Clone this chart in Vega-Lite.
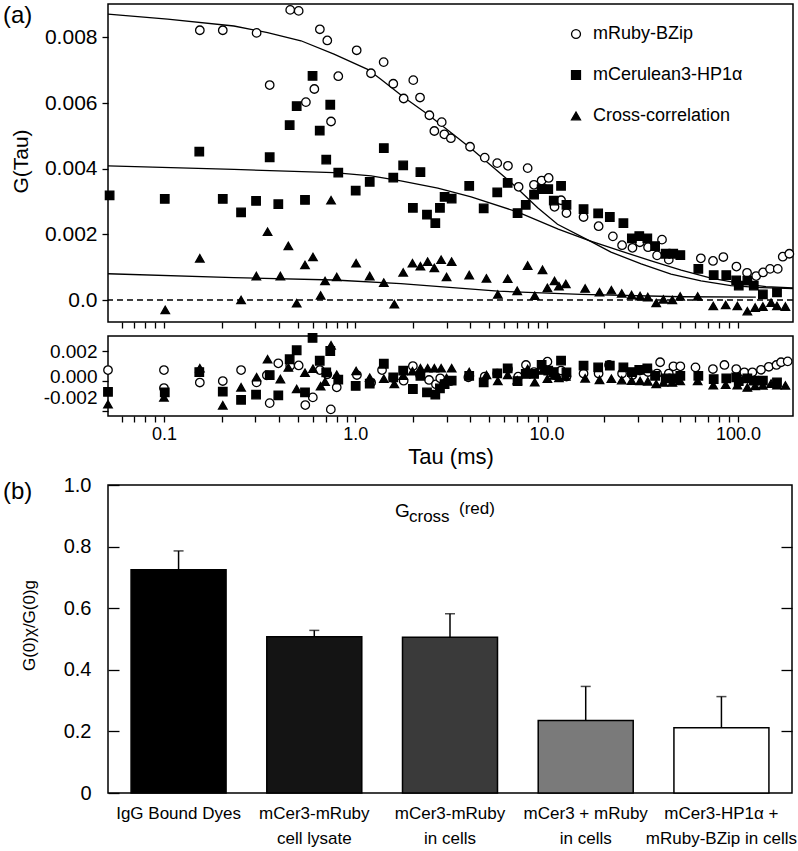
{
  "$schema": "https://vega.github.io/schema/vega-lite/v6.json",
  "padding": {"left": 2, "top": 2, "right": 4, "bottom": 4},
  "spacing": 0,
  "config": {
    "font": "Liberation Sans",
    "view": {"stroke": "black", "strokeWidth": 1.5},
    "axis": {"domain": false, "grid": false, "tickColor": "black", "tickWidth": 1.3, "labelColor": "black", "titleColor": "black", "titleFontWeight": "normal", "labelFont": "Liberation Sans", "titleFont": "Liberation Sans"},
    "title": {"color": "black", "fontWeight": "normal", "font": "Liberation Sans"}
  },
  "datasets": {
    "pts": [
      {"s":"mRuby-BZip","t":0.154,"g":0.00822},{"s":"mRuby-BZip","t":0.203,"g":0.00822},{"s":"mRuby-BZip","t":0.305,"g":0.00814},{"s":"mRuby-BZip","t":0.357,"g":0.00655},{"s":"mRuby-BZip","t":0.457,"g":0.00884},{"s":"mRuby-BZip","t":0.506,"g":0.00881},{"s":"mRuby-BZip","t":0.552,"g":0.00603},{"s":"mRuby-BZip","t":0.611,"g":0.00643},{"s":"mRuby-BZip","t":0.653,"g":0.00825},{"s":"mRuby-BZip","t":0.714,"g":0.00791},{"s":"mRuby-BZip","t":0.747,"g":0.00544},{"s":"mRuby-BZip","t":0.815,"g":0.00682},{"s":"mRuby-BZip","t":1.017,"g":0.00761},{"s":"mRuby-BZip","t":1.208,"g":0.00691},{"s":"mRuby-BZip","t":1.407,"g":0.00725},{"s":"mRuby-BZip","t":1.58,"g":0.00659},{"s":"mRuby-BZip","t":1.79,"g":0.00614},{"s":"mRuby-BZip","t":2.01,"g":0.0067},{"s":"mRuby-BZip","t":2.18,"g":0.00617},{"s":"mRuby-BZip","t":2.44,"g":0.00563},{"s":"mRuby-BZip","t":2.59,"g":0.00515},{"s":"mRuby-BZip","t":2.83,"g":0.00542},{"s":"mRuby-BZip","t":2.92,"g":0.00505},{"s":"mRuby-BZip","t":3.16,"g":0.00493},{"s":"mRuby-BZip","t":3.98,"g":0.00467},{"s":"mRuby-BZip","t":4.75,"g":0.00434},{"s":"mRuby-BZip","t":5.52,"g":0.00417},{"s":"mRuby-BZip","t":6.28,"g":0.00409},{"s":"mRuby-BZip","t":7.14,"g":0.00345},{"s":"mRuby-BZip","t":7.96,"g":0.00402},{"s":"mRuby-BZip","t":8.59,"g":0.00351},{"s":"mRuby-BZip","t":9.42,"g":0.00364},{"s":"mRuby-BZip","t":10.25,"g":0.00372},{"s":"mRuby-BZip","t":11.0,"g":0.00284},{"s":"mRuby-BZip","t":11.9,"g":0.00304},{"s":"mRuby-BZip","t":12.7,"g":0.00265},{"s":"mRuby-BZip","t":15.6,"g":0.00253},{"s":"mRuby-BZip","t":18.7,"g":0.00225},{"s":"mRuby-BZip","t":22.2,"g":0.00194},{"s":"mRuby-BZip","t":24.8,"g":0.00167},{"s":"mRuby-BZip","t":28.1,"g":0.00159},{"s":"mRuby-BZip","t":30.7,"g":0.00176},{"s":"mRuby-BZip","t":33.9,"g":0.00161},{"s":"mRuby-BZip","t":37.8,"g":0.00136},{"s":"mRuby-BZip","t":40.1,"g":0.00184},{"s":"mRuby-BZip","t":43.5,"g":0.00123},{"s":"mRuby-BZip","t":64.0,"g":0.00127},{"s":"mRuby-BZip","t":74.1,"g":0.00119},{"s":"mRuby-BZip","t":83.9,"g":0.00131},{"s":"mRuby-BZip","t":98.2,"g":0.00102},{"s":"mRuby-BZip","t":111.6,"g":0.00083},{"s":"mRuby-BZip","t":124.5,"g":0.00073},{"s":"mRuby-BZip","t":135.3,"g":0.00084},{"s":"mRuby-BZip","t":147.2,"g":0.00095},{"s":"mRuby-BZip","t":161.5,"g":0.00095},{"s":"mRuby-BZip","t":171.5,"g":0.00132},{"s":"mRuby-BZip","t":185.6,"g":0.00141},
      {"s":"mCerulean3-HP1α","t":0.052,"g":0.00319},{"s":"mCerulean3-HP1α","t":0.101,"g":0.00308},{"s":"mCerulean3-HP1α","t":0.153,"g":0.00452},{"s":"mCerulean3-HP1α","t":0.203,"g":0.00308},{"s":"mCerulean3-HP1α","t":0.253,"g":0.00267},{"s":"mCerulean3-HP1α","t":0.303,"g":0.00302},{"s":"mCerulean3-HP1α","t":0.357,"g":0.00435},{"s":"mCerulean3-HP1α","t":0.396,"g":0.00292},{"s":"mCerulean3-HP1α","t":0.454,"g":0.00533},{"s":"mCerulean3-HP1α","t":0.494,"g":0.00591},{"s":"mCerulean3-HP1α","t":0.546,"g":0.00305},{"s":"mCerulean3-HP1α","t":0.598,"g":0.00683},{"s":"mCerulean3-HP1α","t":0.652,"g":0.00516},{"s":"mCerulean3-HP1α","t":0.705,"g":0.00428},{"s":"mCerulean3-HP1α","t":0.74,"g":0.00595},{"s":"mCerulean3-HP1α","t":0.815,"g":0.00388},{"s":"mCerulean3-HP1α","t":1.005,"g":0.00333},{"s":"mCerulean3-HP1α","t":1.19,"g":0.0036},{"s":"mCerulean3-HP1α","t":1.41,"g":0.00463},{"s":"mCerulean3-HP1α","t":1.58,"g":0.00373},{"s":"mCerulean3-HP1α","t":1.78,"g":0.0041},{"s":"mCerulean3-HP1α","t":2.0,"g":0.00281},{"s":"mCerulean3-HP1α","t":2.19,"g":0.0039},{"s":"mCerulean3-HP1α","t":2.37,"g":0.0026},{"s":"mCerulean3-HP1α","t":2.62,"g":0.00234},{"s":"mCerulean3-HP1α","t":2.77,"g":0.00281},{"s":"mCerulean3-HP1α","t":2.93,"g":0.00314},{"s":"mCerulean3-HP1α","t":3.19,"g":0.00309},{"s":"mCerulean3-HP1α","t":3.94,"g":0.00348},{"s":"mCerulean3-HP1α","t":4.69,"g":0.00279},{"s":"mCerulean3-HP1α","t":5.52,"g":0.00328},{"s":"mCerulean3-HP1α","t":6.26,"g":0.00357},{"s":"mCerulean3-HP1α","t":7.05,"g":0.00265},{"s":"mCerulean3-HP1α","t":7.78,"g":0.0029},{"s":"mCerulean3-HP1α","t":8.6,"g":0.00321},{"s":"mCerulean3-HP1α","t":9.42,"g":0.00338},{"s":"mCerulean3-HP1α","t":10.2,"g":0.00338},{"s":"mCerulean3-HP1α","t":10.9,"g":0.00303},{"s":"mCerulean3-HP1α","t":11.9,"g":0.00348},{"s":"mCerulean3-HP1α","t":12.7,"g":0.0029},{"s":"mCerulean3-HP1α","t":15.6,"g":0.00277},{"s":"mCerulean3-HP1α","t":18.6,"g":0.00264},{"s":"mCerulean3-HP1α","t":21.4,"g":0.00253},{"s":"mCerulean3-HP1α","t":25.2,"g":0.00234},{"s":"mCerulean3-HP1α","t":27.9,"g":0.00188},{"s":"mCerulean3-HP1α","t":30.5,"g":0.00195},{"s":"mCerulean3-HP1α","t":33.6,"g":0.00188},{"s":"mCerulean3-HP1α","t":36.9,"g":0.00164},{"s":"mCerulean3-HP1α","t":41.9,"g":0.00141},{"s":"mCerulean3-HP1α","t":45.9,"g":0.00141},{"s":"mCerulean3-HP1α","t":50.0,"g":0.00137},{"s":"mCerulean3-HP1α","t":62.1,"g":0.00095},{"s":"mCerulean3-HP1α","t":74.7,"g":0.00076},{"s":"mCerulean3-HP1α","t":86.9,"g":0.00076},{"s":"mCerulean3-HP1α","t":97.9,"g":0.0006},{"s":"mCerulean3-HP1α","t":101,"g":0.00044},{"s":"mCerulean3-HP1α","t":112,"g":0.00059},{"s":"mCerulean3-HP1α","t":121,"g":0.00044},{"s":"mCerulean3-HP1α","t":135,"g":0.00017},{"s":"mCerulean3-HP1α","t":160,"g":0.00023},
      {"s":"Cross-correlation","t":0.1016,"g":-0.0003},{"s":"Cross-correlation","t":0.154,"g":0.00127},{"s":"Cross-correlation","t":0.253,"g":0.0},{"s":"Cross-correlation","t":0.304,"g":0.00073},{"s":"Cross-correlation","t":0.348,"g":0.00208},{"s":"Cross-correlation","t":0.406,"g":0.00073},{"s":"Cross-correlation","t":0.447,"g":0.00165},{"s":"Cross-correlation","t":0.494,"g":-0.0001},{"s":"Cross-correlation","t":0.546,"g":0.00107},{"s":"Cross-correlation","t":0.601,"g":0.00131},{"s":"Cross-correlation","t":0.659,"g":0.00014},{"s":"Cross-correlation","t":0.695,"g":0.00058},{"s":"Cross-correlation","t":0.747,"g":0.00304},{"s":"Cross-correlation","t":0.8,"g":0.0007},{"s":"Cross-correlation","t":1.01,"g":0.00112},{"s":"Cross-correlation","t":1.19,"g":0.00073},{"s":"Cross-correlation","t":1.41,"g":0.00053},{"s":"Cross-correlation","t":1.6,"g":-0.00013},{"s":"Cross-correlation","t":1.78,"g":0.00084},{"s":"Cross-correlation","t":1.99,"g":0.00112},{"s":"Cross-correlation","t":2.19,"g":0.00103},{"s":"Cross-correlation","t":2.39,"g":0.00117},{"s":"Cross-correlation","t":2.59,"g":0.00098},{"s":"Cross-correlation","t":2.81,"g":0.00123},{"s":"Cross-correlation","t":3.0,"g":0.0007},{"s":"Cross-correlation","t":3.19,"g":0.00117},{"s":"Cross-correlation","t":3.94,"g":0.00076},{"s":"Cross-correlation","t":4.85,"g":0.00066},{"s":"Cross-correlation","t":5.56,"g":0.00017},{"s":"Cross-correlation","t":6.26,"g":0.00065},{"s":"Cross-correlation","t":7.02,"g":0.00028},{"s":"Cross-correlation","t":7.96,"g":0.00105},{"s":"Cross-correlation","t":8.67,"g":0.00013},{"s":"Cross-correlation","t":9.52,"g":0.00092},{"s":"Cross-correlation","t":10.1,"g":0.00037},{"s":"Cross-correlation","t":11.0,"g":0.00058},{"s":"Cross-correlation","t":11.6,"g":0.00042},{"s":"Cross-correlation","t":12.6,"g":0.00049},{"s":"Cross-correlation","t":15.9,"g":0.00035},{"s":"Cross-correlation","t":18.9,"g":0.00024},{"s":"Cross-correlation","t":21.8,"g":0.0003},{"s":"Cross-correlation","t":24.7,"g":0.0002},{"s":"Cross-correlation","t":27.8,"g":0.00015},{"s":"Cross-correlation","t":30.8,"g":0.00012},{"s":"Cross-correlation","t":33.8,"g":0.00009},{"s":"Cross-correlation","t":37.4,"g":-0.00009},{"s":"Cross-correlation","t":40.8,"g":0.00002},{"s":"Cross-correlation","t":45.4,"g":0.0},{"s":"Cross-correlation","t":49.9,"g":0.00011},{"s":"Cross-correlation","t":61.6,"g":0.00011},{"s":"Cross-correlation","t":74.3,"g":-0.00018},{"s":"Cross-correlation","t":86.3,"g":-0.00015},{"s":"Cross-correlation","t":99.3,"g":-0.00018},{"s":"Cross-correlation","t":112,"g":-0.00034},{"s":"Cross-correlation","t":123,"g":-0.00023},{"s":"Cross-correlation","t":135,"g":-0.0002},{"s":"Cross-correlation","t":149,"g":-0.00008},{"s":"Cross-correlation","t":160,"g":-0.00018},{"s":"Cross-correlation","t":177,"g":-0.0002}
    ],
    "fits": [
      {"f":"R","t":0.051,"g":0.00871},{"f":"R","t":0.1045,"g":0.00856},{"f":"R","t":0.232,"g":0.00835},{"f":"R","t":0.348,"g":0.00815},{"f":"R","t":0.52,"g":0.0079},{"f":"R","t":0.774,"g":0.00749},{"f":"R","t":1.16,"g":0.00703},{"f":"R","t":1.36,"g":0.00673},{"f":"R","t":1.8,"g":0.00617},{"f":"R","t":2.39,"g":0.00566},{"f":"R","t":4.03,"g":0.00462},{"f":"R","t":6.52,"g":0.00358},{"f":"R","t":8.98,"g":0.00281},{"f":"R","t":11.4,"g":0.00231},{"f":"R","t":16.7,"g":0.00181},{"f":"R","t":21.7,"g":0.00146},{"f":"R","t":31.2,"g":0.0011},{"f":"R","t":44.7,"g":0.00079},{"f":"R","t":64.1,"g":0.00058},{"f":"R","t":92,"g":0.00044},{"f":"R","t":132,"g":0.00038},{"f":"R","t":194,"g":0.00035},
      {"f":"C","t":0.051,"g":0.00409},{"f":"C","t":0.232,"g":0.00398},{"f":"C","t":0.774,"g":0.00388},{"f":"C","t":1.21,"g":0.00378},{"f":"C","t":1.73,"g":0.00363},{"f":"C","t":2.7,"g":0.00341},{"f":"C","t":4.03,"g":0.00314},{"f":"C","t":7.08,"g":0.00268},{"f":"C","t":11.5,"g":0.00216},{"f":"C","t":16.7,"g":0.00181},{"f":"C","t":24.5,"g":0.00149},{"f":"C","t":35.2,"g":0.00119},{"f":"C","t":50.5,"g":0.00091},{"f":"C","t":72.3,"g":0.00067},{"f":"C","t":104,"g":0.0005},{"f":"C","t":140,"g":0.00041},{"f":"C","t":194,"g":0.00037},
      {"f":"X","t":0.051,"g":0.0008},{"f":"X","t":0.232,"g":0.00068},{"f":"X","t":0.774,"g":0.00061},{"f":"X","t":1.73,"g":0.0005},{"f":"X","t":5.57,"g":0.00027},{"f":"X","t":15.1,"g":0.00017},{"f":"X","t":50.5,"g":0.0001},{"f":"X","t":124,"g":0.00009}
    ],
    "res": [
      {"s":"R","t":0.051,"r":0.00073},{"s":"R","t":0.1,"r":0.00073},{"s":"R","t":0.1,"r":-0.00047},{"s":"R","t":0.154,"r":-0.0001},{"s":"R","t":0.203,"r":0.0},{"s":"R","t":0.253,"r":0.00073},{"s":"R","t":0.305,"r":-0.00009},{"s":"R","t":0.345,"r":0.00038},{"s":"R","t":0.357,"r":-0.00147},{"s":"R","t":0.396,"r":0.00118},{"s":"R","t":0.457,"r":0.00102},{"s":"R","t":0.506,"r":0.00104},{"s":"R","t":0.548,"r":-0.0016},{"s":"R","t":0.6,"r":-0.00109},{"s":"R","t":0.653,"r":0.00073},{"s":"R","t":0.714,"r":0.00045},{"s":"R","t":0.745,"r":-0.00189},{"s":"R","t":0.8,"r":-0.00042},{"s":"R","t":1.02,"r":0.0004},{"s":"R","t":1.21,"r":-0.0001},{"s":"R","t":1.38,"r":0.00073},{"s":"R","t":1.58,"r":0.0002},{"s":"R","t":1.79,"r":0.00002},{"s":"R","t":2.0,"r":0.001},{"s":"R","t":2.18,"r":0.0004},{"s":"R","t":2.43,"r":0.00007},{"s":"R","t":2.64,"r":-0.00022},{"s":"R","t":2.78,"r":0.00018},{"s":"R","t":2.92,"r":-0.0002},{"s":"R","t":3.16,"r":0.0},{"s":"R","t":3.9,"r":0.00025},{"s":"R","t":4.75,"r":0.0003},{"s":"R","t":5.52,"r":0.0005},{"s":"R","t":6.28,"r":0.0008},{"s":"R","t":7.1,"r":0.00029},{"s":"R","t":7.8,"r":0.00107},{"s":"R","t":8.59,"r":0.0006},{"s":"R","t":9.42,"r":0.0008},{"s":"R","t":10.1,"r":0.00129},{"s":"R","t":11.0,"r":0.0004},{"s":"R","t":11.9,"r":0.0007},{"s":"R","t":12.7,"r":0.0003},{"s":"R","t":15.6,"r":0.0005},{"s":"R","t":18.7,"r":0.0005},{"s":"R","t":21.2,"r":0.00107},{"s":"R","t":24.8,"r":0.0005},{"s":"R","t":28.1,"r":0.0004},{"s":"R","t":30.7,"r":0.0007},{"s":"R","t":33.9,"r":0.0006},{"s":"R","t":37.8,"r":0.0005},{"s":"R","t":39.2,"r":0.00125},{"s":"R","t":43.5,"r":0.0005},{"s":"R","t":46,"r":0.00098},{"s":"R","t":50,"r":0.00098},{"s":"R","t":60,"r":0.00091},{"s":"R","t":74,"r":0.0008},{"s":"R","t":85,"r":0.00107},{"s":"R","t":98,"r":0.0008},{"s":"R","t":108,"r":0.00058},{"s":"R","t":119,"r":0.00058},{"s":"R","t":132,"r":0.00075},{"s":"R","t":145,"r":0.00095},{"s":"R","t":159,"r":0.00107},{"s":"R","t":168,"r":0.00125},{"s":"R","t":182,"r":0.00131},
      {"s":"C","t":0.051,"r":-0.00072},{"s":"C","t":0.101,"r":-0.00075},{"s":"C","t":0.153,"r":0.0006},{"s":"C","t":0.203,"r":-0.00071},{"s":"C","t":0.253,"r":-0.00125},{"s":"C","t":0.303,"r":-0.0009},{"s":"C","t":0.357,"r":0.0004},{"s":"C","t":0.396,"r":-0.00095},{"s":"C","t":0.454,"r":0.00145},{"s":"C","t":0.494,"r":0.00205},{"s":"C","t":0.546,"r":-0.00075},{"s":"C","t":0.598,"r":0.00287},{"s":"C","t":0.652,"r":0.00135},{"s":"C","t":0.705,"r":0.00058},{"s":"C","t":0.74,"r":0.002},{"s":"C","t":0.815,"r":0.0001},{"s":"C","t":1.005,"r":-0.00033},{"s":"C","t":1.19,"r":-0.00018},{"s":"C","t":1.41,"r":0.00115},{"s":"C","t":1.58,"r":0.00025},{"s":"C","t":1.78,"r":0.00069},{"s":"C","t":2.0,"r":-0.00053},{"s":"C","t":2.19,"r":0.00035},{"s":"C","t":2.37,"r":-0.00076},{"s":"C","t":2.62,"r":-0.00091},{"s":"C","t":2.77,"r":-0.00049},{"s":"C","t":2.93,"r":-0.0002},{"s":"C","t":3.19,"r":0.00002},{"s":"C","t":3.94,"r":0.00035},{"s":"C","t":4.69,"r":-0.00009},{"s":"C","t":5.52,"r":0.00051},{"s":"C","t":6.26,"r":0.00085},{"s":"C","t":7.05,"r":0.0},{"s":"C","t":7.78,"r":0.00047},{"s":"C","t":8.6,"r":0.00047},{"s":"C","t":9.42,"r":0.00107},{"s":"C","t":10.2,"r":0.00069},{"s":"C","t":10.9,"r":0.0006},{"s":"C","t":11.9,"r":0.00136},{"s":"C","t":12.7,"r":0.00058},{"s":"C","t":15.6,"r":0.00102},{"s":"C","t":18.6,"r":0.00091},{"s":"C","t":21.4,"r":0.00102},{"s":"C","t":25.2,"r":0.00091},{"s":"C","t":27.9,"r":0.0006},{"s":"C","t":30.5,"r":0.00075},{"s":"C","t":33.6,"r":0.00085},{"s":"C","t":36.9,"r":0.00035},{"s":"C","t":41.9,"r":0.00018},{"s":"C","t":45.9,"r":0.00018},{"s":"C","t":50.0,"r":0.00035},{"s":"C","t":62.1,"r":0.00035},{"s":"C","t":74.7,"r":0.00013},{"s":"C","t":86.9,"r":0.00018},{"s":"C","t":97.9,"r":0.00025},{"s":"C","t":101,"r":0.0},{"s":"C","t":112,"r":0.00018},{"s":"C","t":121,"r":0.00002},{"s":"C","t":135,"r":0.00002},{"s":"C","t":160,"r":-0.00009},
      {"s":"X","t":0.051,"r":-0.00155},{"s":"X","t":0.1,"r":-0.00109},{"s":"X","t":0.154,"r":0.00085},{"s":"X","t":0.203,"r":-0.00162},{"s":"X","t":0.253,"r":-0.00042},{"s":"X","t":0.305,"r":0.00025},{"s":"X","t":0.348,"r":0.00145},{"s":"X","t":0.406,"r":0.00013},{"s":"X","t":0.447,"r":0.0009},{"s":"X","t":0.494,"r":-0.00053},{"s":"X","t":0.546,"r":0.00055},{"s":"X","t":0.601,"r":0.00082},{"s":"X","t":0.659,"r":-0.00035},{"s":"X","t":0.695,"r":-0.00005},{"s":"X","t":0.747,"r":0.00238},{"s":"X","t":0.8,"r":0.00042},{"s":"X","t":1.01,"r":0.00067},{"s":"X","t":1.19,"r":0.00022},{"s":"X","t":1.41,"r":0.00015},{"s":"X","t":1.6,"r":-0.0002},{"s":"X","t":1.78,"r":0.00036},{"s":"X","t":1.99,"r":0.00065},{"s":"X","t":2.19,"r":0.00085},{"s":"X","t":2.39,"r":0.00085},{"s":"X","t":2.59,"r":0.00085},{"s":"X","t":2.81,"r":0.00085},{"s":"X","t":3.0,"r":0.0002},{"s":"X","t":3.19,"r":0.00085},{"s":"X","t":3.94,"r":0.0006},{"s":"X","t":4.85,"r":0.0004},{"s":"X","t":5.56,"r":0.0},{"s":"X","t":6.26,"r":0.0004},{"s":"X","t":7.02,"r":0.00005},{"s":"X","t":7.96,"r":0.0008},{"s":"X","t":8.67,"r":-0.00008},{"s":"X","t":9.52,"r":0.0007},{"s":"X","t":10.1,"r":0.00015},{"s":"X","t":11.0,"r":0.00037},{"s":"X","t":11.6,"r":0.0002},{"s":"X","t":12.6,"r":0.0003},{"s":"X","t":15.9,"r":0.00018},{"s":"X","t":18.9,"r":0.00008},{"s":"X","t":21.8,"r":0.00015},{"s":"X","t":24.7,"r":0.00006},{"s":"X","t":27.8,"r":0.00002},{"s":"X","t":30.8,"r":0.0},{"s":"X","t":33.8,"r":-0.00002},{"s":"X","t":37.4,"r":-0.0002},{"s":"X","t":40.8,"r":-0.0001},{"s":"X","t":45.4,"r":-0.0001},{"s":"X","t":49.9,"r":0.0},{"s":"X","t":61.6,"r":0.0},{"s":"X","t":74.3,"r":-0.00028},{"s":"X","t":86.3,"r":-0.00025},{"s":"X","t":99.3,"r":-0.00027},{"s":"X","t":112,"r":-0.00043},{"s":"X","t":123,"r":-0.00032},{"s":"X","t":135,"r":-0.00029},{"s":"X","t":149,"r":-0.00017},{"s":"X","t":160,"r":-0.00027},{"s":"X","t":177,"r":-0.00029}
    ],
    "bars": [
      {"c":"IgG Bound Dyes","v":0.725,"e":0.786},
      {"c":"mCer3-mRuby|cell lysate","v":0.507,"e":0.528},
      {"c":"mCer3-mRuby|in cells","v":0.506,"e":0.582},
      {"c":"mCer3 + mRuby|in cells","v":0.235,"e":0.346},
      {"c":"mCer3-HP1α +|mRuby-BZip in cells","v":0.212,"e":0.313}
    ]
  },
  "vconcat": [
    {
      "width": 685,
      "height": 318,
      "title": {"text": "(a)", "anchor": "start", "frame": "group", "fontSize": 24, "baseline": "top", "offset": -25, "dx": -105},
      "layer": [
        {
          "data": {"name": "fits"},
          "mark": {"type": "line", "color": "black", "strokeWidth": 1.3},
          "encoding": {
            "x": {"field": "t", "type": "quantitative", "scale": {"type": "log", "domain": [0.051, 194], "nice": false},
                  "axis": {"values": [0.06,0.07,0.08,0.09,0.1,0.2,0.3,0.4,0.5,0.6,0.7,0.8,0.9,1,2,3,4,5,6,7,8,9,10,20,30,40,50,60,70,80,90,100], "labels": false, "tickSize": 6, "title": null}},
            "y": {"field": "g", "type": "quantitative", "scale": {"domain": [-0.00067, 0.00902], "nice": false, "zero": false},
                  "axis": {"values": [0, 0.002, 0.004, 0.006, 0.008], "labelExpr": "datum.value == 0 ? '0.0' : format(datum.value, '.3f')", "labelFontSize": 21, "tickSize": 6, "labelPadding": 5, "title": "G(Tau)", "titleFontSize": 21, "titleX": -87, "titleY": 157, "titleBaseline": "middle", "titleAlign": "center"}},
            "detail": {"field": "f"}
          }
        },
        {
          "data": {"values": [{}]},
          "mark": {"type": "rule", "color": "black", "strokeWidth": 1.3, "strokeDash": [6, 4]},
          "encoding": {"y": {"datum": 0}}
        },
        {
          "data": {"name": "pts"},
          "mark": {"type": "point", "filled": true, "strokeWidth": 1.3, "size": 72, "opacity": 1},
          "encoding": {
            "x": {"field": "t", "type": "quantitative"},
            "y": {"field": "g", "type": "quantitative"},
            "shape": {"field": "s", "type": "nominal", "sort": null, "scale": {"domain": ["mRuby-BZip", "mCerulean3-HP1α", "Cross-correlation"], "range": ["circle", "square", "triangle-up"]},
                      "legend": {"orient": "none", "legendX": 459, "legendY": 21, "title": null, "labelFontSize": 18, "labelColor": "black", "rowPadding": 23, "symbolSize": 80, "symbolStrokeWidth": 1.3, "labelOffset": 8, "padding": 0}},
            "fill": {"field": "s", "type": "nominal", "sort": null, "scale": {"domain": ["mRuby-BZip", "mCerulean3-HP1α", "Cross-correlation"], "range": ["white", "black", "black"]},
                     "legend": {"orient": "none", "legendX": 459, "legendY": 21, "title": null, "labelFontSize": 18, "labelColor": "black", "rowPadding": 23, "symbolSize": 80, "symbolStrokeWidth": 1.3, "labelOffset": 8, "padding": 0}},
            "stroke": {"field": "s", "type": "nominal", "sort": null, "scale": {"domain": ["mRuby-BZip", "mCerulean3-HP1α", "Cross-correlation"], "range": ["black", "black", "black"]},
                       "legend": {"orient": "none", "legendX": 459, "legendY": 21, "title": null, "labelFontSize": 18, "labelColor": "black", "rowPadding": 23, "symbolSize": 80, "symbolStrokeWidth": 1.3, "labelOffset": 8, "padding": 0}}
          }
        }
      ]
    },
    {
      "width": 685,
      "height": 80,
      "data": {"name": "res"},
      "encoding": {
        "x": {"field": "t", "type": "quantitative", "scale": {"type": "log", "domain": [0.051, 194], "nice": false},
              "axis": {"values": [0.06,0.07,0.08,0.09,0.1,0.2,0.3,0.4,0.5,0.6,0.7,0.8,0.9,1,2,3,4,5,6,7,8,9,10,20,30,40,50,60,70,80,90,100], "labelExpr": "indexof([0.1, 1, 10, 100], datum.value) >= 0 ? format(datum.value, '.1f') : ''", "labelOverlap": false, "labelFlush": false, "labelFontSize": 18, "labelPadding": 3, "tickSize": 6, "title": "Tau (ms)", "titleFontSize": 22, "titlePadding": 3}},
        "y": {"field": "r", "type": "quantitative", "scale": {"domain": [-0.00233, 0.003], "nice": false, "zero": false},
              "axis": {"values": [-0.002, 0, 0.002], "labelExpr": "datum.value < 0 ? '-0.002' : (datum.value > 0 ? '0.002' : '0.000')", "labelFontSize": 19, "labelOverlap": false, "tickSize": 6, "labelPadding": 5, "title": null,
                       "labelOffset": {"condition": [{"test": "datum.value < 0", "value": -14}, {"test": "datum.value == 0", "value": -5}], "value": 0}}}
      },
      "layer": [
        {
          "data": {"values": [{}]},
          "mark": {"type": "rule", "color": "black", "strokeWidth": 1.3, "strokeDash": [6, 4]},
          "encoding": {"x": null, "y": {"datum": 0}}
        },
        {
          "transform": [{"filter": "datum.s == 'R'"}],
          "mark": {"type": "point", "shape": "circle", "filled": true, "fill": "white", "stroke": "black", "strokeWidth": 1.3, "size": 72, "opacity": 1}
        },
        {
          "transform": [{"filter": "datum.s == 'C'"}],
          "mark": {"type": "point", "shape": "square", "filled": true, "fill": "black", "stroke": "black", "strokeWidth": 1.3, "size": 72, "opacity": 1}
        },
        {
          "transform": [{"filter": "datum.s == 'X'"}],
          "mark": {"type": "point", "shape": "triangle-up", "filled": true, "fill": "black", "stroke": "black", "strokeWidth": 1.3, "size": 72, "opacity": 1}
        },
        {
          "data": {"values": [{}]},
          "mark": {"type": "text", "text": "Residuals", "align": "right", "baseline": "middle", "fontSize": 17, "color": "black"},
          "encoding": {"x": {"datum": 190}, "y": {"datum": 0.00213}}
        }
      ]
    },
    {
      "width": 684,
      "height": 308,
      "title": {"text": ["", "(b)"], "anchor": "start", "frame": "group", "fontSize": 24, "lineHeight": 11, "baseline": "top", "offset": -29, "dx": -105},
      "data": {"name": "bars"},
      "layer": [
        {
          "mark": {"type": "bar", "stroke": "black", "strokeWidth": 1.5},
          "encoding": {
            "x": {"field": "c", "type": "nominal", "sort": null, "scale": {"paddingInner": 0.3, "paddingOuter": 0.17},
                  "axis": {"labelExpr": "split(datum.label, '|')", "labelAngle": 0, "labelFontSize": 17, "labelLineHeight": 25, "ticks": false, "labelPadding": 12, "title": null, "labelBaseline": "top"}},
            "y": {"field": "v", "type": "quantitative", "scale": {"domain": [0, 1], "nice": false},
                  "axis": {"values": [0, 0.2, 0.4, 0.6, 0.8, 1], "labelExpr": "datum.value == 0 ? '0' : format(datum.value, '.1f')", "labelFontSize": 20, "offset": -11, "tickSize": 11, "labelPadding": 17, "title": "G(0)χ/G(0)g", "titleFontSize": 17, "titleX": -90, "titleY": 140, "titleBaseline": "middle", "titleAlign": "center"}},
            "fill": {"field": "c", "type": "nominal", "sort": null, "scale": {"range": ["#000000", "#141414", "#3a3a3a", "#7a7a7a", "#ffffff"]}, "legend": null}
          }
        },
        {
          "mark": {"type": "rule", "color": "black", "strokeWidth": 1.5},
          "encoding": {"x": {"field": "c", "type": "nominal", "sort": null}, "y": {"field": "v", "type": "quantitative", "axis": null}, "y2": {"field": "e"}}
        },
        {
          "mark": {"type": "tick", "color": "black", "thickness": 1.5, "size": 10},
          "encoding": {"x": {"field": "c", "type": "nominal", "sort": null}, "y": {"field": "e", "type": "quantitative", "axis": null}}
        },
        {
          "mark": {"type": "rule", "opacity": 0},
          "encoding": {"y": {"field": "v", "type": "quantitative", "axis": {"orient": "right", "values": [0.2, 0.4, 0.6, 0.8], "labels": false, "offset": -11, "tickSize": 11, "title": null}}}
        },
        {
          "data": {"values": [{}]},
          "mark": {"type": "text", "text": "G", "align": "left", "baseline": "middle", "fontSize": 19, "dx": -55, "color": "black"},
          "encoding": {"x": {"datum": "mCer3-mRuby|in cells"}, "y": {"datum": 0.914, "axis": null}}
        },
        {
          "data": {"values": [{}]},
          "mark": {"type": "text", "text": "cross", "align": "left", "baseline": "middle", "fontSize": 17, "dx": -41, "color": "black"},
          "encoding": {"x": {"datum": "mCer3-mRuby|in cells"}, "y": {"datum": 0.895, "axis": null}}
        },
        {
          "data": {"values": [{}]},
          "mark": {"type": "text", "text": "(red)", "align": "left", "baseline": "middle", "fontSize": 17, "dx": 9, "color": "black"},
          "encoding": {"x": {"datum": "mCer3-mRuby|in cells"}, "y": {"datum": 0.922, "axis": null}}
        }
      ],
      "resolve": {"axis": {"y": "independent"}}
    }
  ],
  "resolve": {"scale": {"shape": "independent", "fill": "independent", "color": "independent", "stroke": "independent"}}
}
